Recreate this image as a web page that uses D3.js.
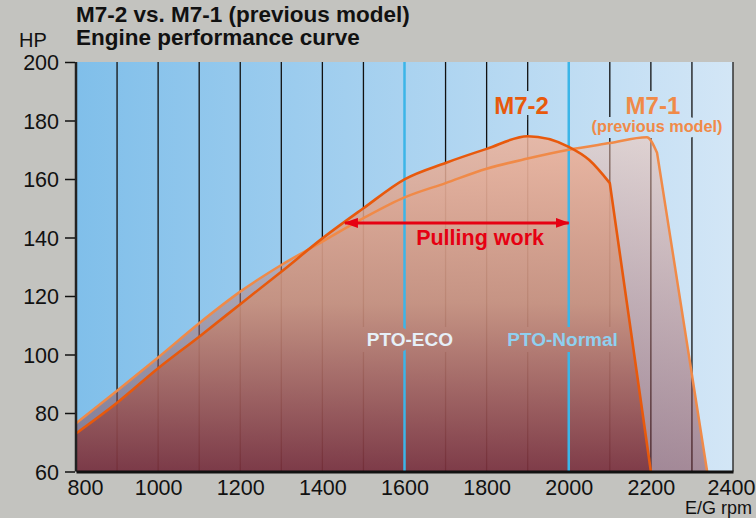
<!DOCTYPE html>
<html>
<head>
<meta charset="utf-8">
<script src="https://cdn.jsdelivr.net/npm/d3@7"></script>
<style>
    html, body { margin: 0; padding: 0; background: #c3c3bf; }
    svg { display: block; font-family: 'Liberation Sans', Arial, Helvetica, sans-serif; }
</style>
</head>
<body>
<svg id="chart" width="756" height="518"></svg>
<script>
'use strict';

// axis ticks
var rpmTicks = [ 800, 1000, 1200, 1400, 1600, 1800, 2000, 2200, 2400 ],
    hpTicks = [ 60, 80, 100, 120, 140, 160, 180, 200 ],
    gridRpm = [ 900, 1000, 1100, 1200, 1300, 1400, 1500, 1600, 1700, 1800, 1900, 2000, 2100, 2200, 2300 ];

// M7-2 curve
var m72Rpm = [ 800, 900, 1000, 1100, 1200, 1300, 1400, 1500, 1600, 1700, 1800, 1900, 2000, 2050, 2100, 2200 ],
    m72Hp  = [ 73, 83.5, 95.3, 106.1, 117.2, 128.3, 139.7, 150, 159.9, 165.5, 170.3, 174.6, 171, 166.5, 158.6, 60 ];

// M7-1 (previous model)
var m71Rpm = [ 800, 900, 1000, 1100, 1200, 1300, 1400, 1500, 1600, 1700, 1800, 1900, 2000, 2100, 2190, 2215, 2337 ],
    m71Hp  = [ 76.5, 87.6, 99, 110.7, 121.5, 130.6, 138.6, 146.6, 153.7, 158.6, 163.5, 167, 170, 172.3, 174.3, 169, 60 ];

// PTO speeds and pulling work range
var ptoRpm = [ 1600, 2000 ],
    ptoNames = [ 'PTO-ECO', 'PTO-Normal' ],
    pullingRpm = [ 1455, 2000 ],
    pullingHp = 145;

var svg = d3.select( '#chart' ),
    x = d3.scaleLinear().domain( [ 800, 2400 ] ).range( [ 76, 733 ] ),
    y = d3.scaleLinear().domain( [ 60, 200 ] ).range( [ 471.5, 62 ] ),
    defs = svg.append( 'defs' );

function zip( xs, ys ){
    return xs.map( function( v, i ){ return { rpm: v, hp: ys[i] }; } );
}

var m72 = zip( m72Rpm, m72Hp ),
    m71 = zip( m71Rpm, m71Hp );

function gradient( id, attrs, stops ){
    var g = defs.append( 'linearGradient' ).attr( 'id', id );
    Object.keys( attrs ).forEach( function( k ){ g.attr( k, attrs[k] ); } );
    stops.forEach( function( s ){
        g.append( 'stop' ).attr( 'offset', s[0] ).attr( 'stop-color', s[1] );
    });
}

gradient( 'bg', { x1: 0, x2: 1, y1: 0, y2: 0 }, [ [ 0, '#80bfea' ], [ 1, '#d3e6f6' ] ] );
gradient( 'm72fill', { gradientUnits: 'userSpaceOnUse', x1: 0, x2: 0, y1: y( 175 ), y2: y( 60 ) },
    [ [ 0, '#ecb39c' ], [ 0.5, '#c8907c' ], [ 1, '#7a303c' ] ] );
gradient( 'm71fill', { gradientUnits: 'userSpaceOnUse', x1: 0, x2: 0, y1: y( 175 ), y2: y( 60 ) },
    [ [ 0, '#f6c4b0' ], [ 1, '#7a2f3a' ] ] );

// smooth up to the corner, straight cut-off after it
function curvePath( pts, corner, closed ){
    var smooth = d3.line()
            .x( function( d ){ return x( d.rpm ); } )
            .y( function( d ){ return y( d.hp ); } )
            .curve( d3.curveMonotoneX )( pts.slice( 0, corner + 1 ) ),
        tail = pts.slice( corner + 1 ).map( function( d ){
            return 'L' + x( d.rpm ) + ',' + y( d.hp );
        }).join( '' ),
        path = smooth + tail;

    if ( closed ){
        path += 'L' + x( pts[pts.length - 1].rpm ) + ',' + y( 60 ) +
            'L' + x( pts[0].rpm ) + ',' + y( 60 ) + 'Z';
    }
    return path;
}

// labels inside the plot; gridlines are broken around them
var plotLabels = [
    { text: 'M7-2', rpm: 1885, hp: 182.2, size: 24, fill: '#e8590c' },
    { text: 'M7-1', rpm: 2205, hp: 182.2, size: 24, fill: '#f08a48' },
    { text: '(previous model)', rpm: 2215, hp: 176.2, size: 17, fill: '#f08a48', len: 131 }
];
var ptoLabels = ptoRpm.map( function( r, i ){
    return { text: ptoNames[i], rpm: r + ( i ? -15 : 13 ), hp: 103, size: 19,
        fill: i ? '#8fd0f0' : '#e6f0f8' };
});

function drawLabel( sel, d ){
    var t = sel.append( 'text' )
        .attr( 'x', x( d.rpm ) )
        .attr( 'y', y( d.hp ) )
        .attr( 'text-anchor', 'middle' )
        .style( 'font-size', d.size + 'px' )
        .style( 'font-weight', 'bold' )
        .text( d.text );
    if ( d.len ){
        t.attr( 'textLength', d.len ).attr( 'lengthAdjust', 'spacingAndGlyphs' );
    }
    return t;
}

var mask = defs.append( 'mask' )
    .attr( 'id', 'labelGap' )
    .attr( 'maskUnits', 'userSpaceOnUse' )
    .attr( 'x', 0 ).attr( 'y', 0 ).attr( 'width', 756 ).attr( 'height', 518 );
mask.append( 'rect' ).attr( 'width', 756 ).attr( 'height', 518 ).attr( 'fill', '#fff' );
plotLabels.concat( ptoLabels ).forEach( function( d ){
    drawLabel( mask, d ).attr( 'fill', '#000' ).attr( 'stroke', '#000' ).attr( 'stroke-width', 12 );
});

// background
svg.append( 'rect' )
    .attr( 'x', x( 800 ) ).attr( 'y', y( 200 ) )
    .attr( 'width', x( 2400 ) - x( 800 ) ).attr( 'height', y( 60 ) - y( 200 ) )
    .attr( 'fill', 'url(#bg)' );

// black gridlines
svg.append( 'g' )
    .attr( 'mask', 'url(#labelGap)' )
    .selectAll( 'line' )
    .data( gridRpm.filter( function( r ){ return ptoRpm.indexOf( r ) < 0; } ) )
    .enter().append( 'line' )
        .attr( 'x1', x ).attr( 'x2', x )
        .attr( 'y1', y( 200 ) ).attr( 'y2', y( 60 ) )
        .attr( 'stroke', '#111' )
        .attr( 'stroke-width', 1.3 );

svg.append( 'path' )
    .attr( 'd', curvePath( m71, 15, true ) )
    .attr( 'fill', 'url(#m71fill)' )
    .attr( 'opacity', 0.5 );

svg.append( 'path' )
    .attr( 'd', curvePath( m72, 14, true ) )
    .attr( 'fill', 'url(#m72fill)' )
    .attr( 'opacity', 0.86 );

// PTO lines
svg.append( 'g' )
    .attr( 'mask', 'url(#labelGap)' )
    .selectAll( 'line' )
    .data( ptoRpm )
    .enter().append( 'line' )
        .attr( 'x1', x ).attr( 'x2', x )
        .attr( 'y1', y( 200 ) ).attr( 'y2', y( 60 ) )
        .attr( 'stroke', '#3bb5e8' )
        .attr( 'stroke-width', 2.5 );

svg.append( 'path' )
    .attr( 'd', curvePath( m71, 15, false ) )
    .attr( 'fill', 'none' )
    .attr( 'stroke', '#f08a48' )
    .attr( 'stroke-width', 2.5 )
    .attr( 'stroke-linejoin', 'round' );

svg.append( 'path' )
    .attr( 'd', curvePath( m72, 14, false ) )
    .attr( 'fill', 'none' )
    .attr( 'stroke', '#e8590c' )
    .attr( 'stroke-width', 2.6 )
    .attr( 'stroke-linejoin', 'round' );

plotLabels.concat( ptoLabels ).forEach( function( d ){
    drawLabel( svg, d ).attr( 'fill', d.fill );
});

// pulling work arrow
defs.append( 'marker' )
    .attr( 'id', 'head' )
    .attr( 'viewBox', '0 0 14 10' )
    .attr( 'refX', 13 ).attr( 'refY', 5 )
    .attr( 'markerWidth', 14 ).attr( 'markerHeight', 10 )
    .attr( 'markerUnits', 'userSpaceOnUse' )
    .attr( 'orient', 'auto-start-reverse' )
    .append( 'path' )
        .attr( 'd', 'M0,0 L14,5 L0,10 Z' )
        .attr( 'fill', '#e60012' );

svg.append( 'line' )
    .attr( 'x1', x( pullingRpm[0] ) ).attr( 'x2', x( pullingRpm[1] ) )
    .attr( 'y1', y( pullingHp ) ).attr( 'y2', y( pullingHp ) )
    .attr( 'stroke', '#e60012' )
    .attr( 'stroke-width', 3 )
    .attr( 'marker-start', 'url(#head)' )
    .attr( 'marker-end', 'url(#head)' );

svg.append( 'text' )
    .attr( 'x', x( 1784 ) ).attr( 'y', y( 137.4 ) )
    .attr( 'text-anchor', 'middle' )
    .attr( 'fill', '#e60012' )
    .style( 'font-size', '21.5px' )
    .style( 'font-weight', 'bold' )
    .text( 'Pulling work' );

// frame
svg.append( 'line' )
    .attr( 'x1', x( 800 ) ).attr( 'x2', x( 800 ) )
    .attr( 'y1', y( 200 ) ).attr( 'y2', y( 60 ) )
    .attr( 'stroke', '#222' ).attr( 'stroke-width', 2.5 );
svg.append( 'line' )
    .attr( 'x1', x( 2400 ) ).attr( 'x2', x( 2400 ) )
    .attr( 'y1', y( 200 ) ).attr( 'y2', y( 60 ) )
    .attr( 'stroke', '#333' ).attr( 'stroke-width', 1.5 );

// axes
var yAxis = svg.append( 'g' )
    .attr( 'transform', 'translate(' + ( x( 800 ) - 1 ) + ',0)' )
    .call( d3.axisLeft( y ).tickValues( hpTicks ).tickSize( 10 ).tickPadding( 6 ) );
yAxis.select( '.domain' ).remove();
yAxis.selectAll( 'line' ).attr( 'stroke', '#111' ).attr( 'stroke-width', 1.5 );
yAxis.selectAll( 'text' )
    .attr( 'fill', '#111' )
    .attr( 'dy', '0.36em' )
    .style( 'font-size', '21.5px' )
    .style( 'font-family', null );

var xAxis = svg.append( 'g' )
    .attr( 'transform', 'translate(0,' + y( 60 ) + ')' )
    .call( d3.axisBottom( x ).tickValues( rpmTicks ).tickFormat( d3.format( 'd' ) )
        .tickSize( 0 ).tickPadding( 8 ) );
xAxis.select( '.domain' )
    .attr( 'stroke', '#111' )
    .attr( 'stroke-width', 3 );
xAxis.selectAll( 'text' )
    .attr( 'fill', '#111' )
    .attr( 'dx', function( d ){ return d === 800 ? 9 : ( d === 2400 ? -2 : 0 ); } )
    .style( 'font-size', '21.5px' )
    .style( 'font-family', null );

// titles
svg.append( 'text' )
    .attr( 'x', 19 ).attr( 'y', 47 )
    .attr( 'fill', '#111' )
    .style( 'font-size', '20px' )
    .text( 'HP' );

svg.append( 'text' )
    .attr( 'x', 685 ).attr( 'y', 514 )
    .attr( 'fill', '#111' )
    .style( 'font-size', '18px' )
    .text( 'E/G rpm' );

svg.append( 'text' )
    .attr( 'x', 76 ).attr( 'y', 22 )
    .attr( 'fill', '#111' )
    .style( 'font-size', '22.5px' )
    .style( 'font-weight', 'bold' )
    .text( 'M7-2 vs. M7-1 (previous model)' );

svg.append( 'text' )
    .attr( 'x', 76 ).attr( 'y', 45 )
    .attr( 'fill', '#111' )
    .style( 'font-size', '22.5px' )
    .style( 'font-weight', 'bold' )
    .text( 'Engine performance curve' );
</script>
</body>
</html>
